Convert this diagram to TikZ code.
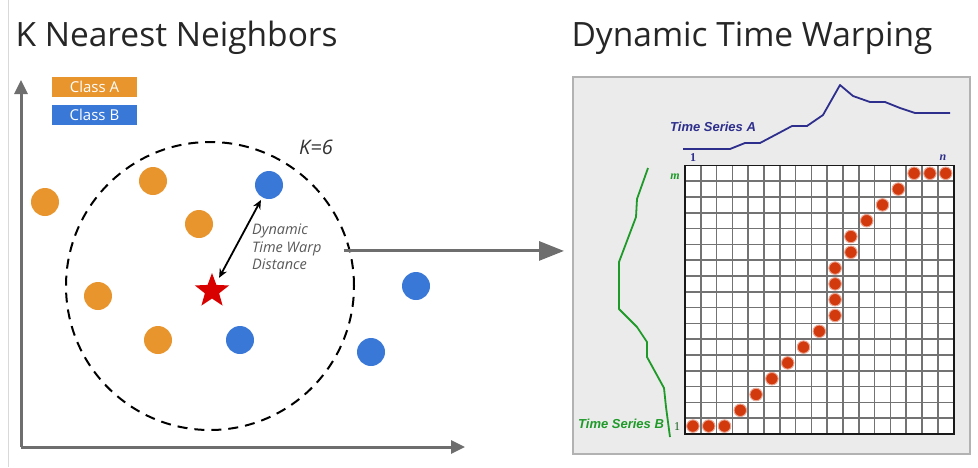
\documentclass[tikz,border=0pt]{standalone}
\usepackage{fontspec}
\setmainfont{Open Sans}
\newfontfamily\tsfont{Liberation Sans}
\newfontfamily\idxfont{Liberation Serif}
\usetikzlibrary{arrows.meta,shapes.geometric}
\definecolor{clsA}{HTML}{E8952E}
\definecolor{clsB}{HTML}{3A78D8}
\definecolor{axisgray}{HTML}{6E6E6E}
\definecolor{seriesA}{HTML}{2E2E8C}
\definecolor{seriesB}{HTML}{1E9A28}
\definecolor{pathred}{HTML}{D23A0E}
\definecolor{panelgray}{HTML}{EBEBEB}
\begin{document}
\begin{tikzpicture}
	[x=1pt,y=-1pt,
	title/.style={anchor=west,font=\fontsize{33.5}{40}\selectfont,text=black!85},
	legend/.style={minimum width=85pt,minimum height=20pt,inner sep=0pt,text=white,font=\fontsize{15}{17}\selectfont},
	dotA/.style={circle,fill=clsA,minimum size=28pt,inner sep=0pt},
	dotB/.style={circle,fill=clsB,minimum size=28pt,inner sep=0pt},
	axis/.style={draw=axisgray,line width=3pt,-{Triangle[length=14pt,width=13pt]}},
	panel/.style={draw=black!30,line width=2pt,fill=panelgray,minimum width=397pt,minimum height=377pt},
	gridline/.style={draw=black!55,line width=1.7pt},
	gridframe/.style={draw=black!90,line width=1.8pt},
	match/.style={circle,fill=pathred,draw=pathred!45!white,line width=1pt,minimum size=12.5pt,inner sep=0pt},
	tslabel/.style={font=\tsfont\bfseries\itshape\fontsize{13}{15}\selectfont},
	idx/.style={font=\idxfont\bfseries\itshape\fontsize{12}{14}\selectfont},]
	\useasboundingbox (0,0) rectangle (978,467);
	\draw[black!15] (8,0) -- (8,467);
	% titles
	\node[title] (t1) at (12,38) {K Nearest Neighbors};
	\node[title] (t2) at (568,38) {Dynamic Time Warping};
	% left panel: knn
	\coordinate (o) at (21,447);
	\draw[axis] (o) -- (21,80);
	\draw[axis] (o) -- (465,447);
	\node[legend,fill=clsA] (la) at (94.5,87) {Class A};
	\node[legend,fill=clsB] (lb) at (94.5,114.5) {Class B};
	\node[circle,draw,line width=2pt,dash pattern=on 10pt off 7pt,minimum size=288pt] (knn) at (210,286) {};
	\node[font=\itshape\fontsize{20}{24}\selectfont,text=black!80] (k) at (316,147) {K=6};
	\foreach \p [count=\i] in {(45,202),(153,181),(199,224),(98,296),(158,340)}
		\node[dotA] (a\i) at \p {};
	\foreach \p [count=\i] in {(269,185),(416,286),(240,340),(371,352)}
		\node[dotB] (b\i) at \p {};
	\node[star,star points=5,star point ratio=2.4,fill=red!85!black,minimum size=36pt,inner sep=0pt] (q) at (212,291) {};
	\draw[line width=1.8pt,{Stealth[length=9pt,width=8pt]}-{Stealth[length=9pt,width=8pt]},shorten <=15pt,shorten >=17pt] (q.center) -- (b1.center);
	\node[anchor=north west,align=left,inner sep=0pt,text=black!65,font=\itshape\fontsize{14.5}{17.5}\selectfont] (dist) at (252,224) {Dynamic\\Time Warp\\Distance};
	% right panel: dtw
	\node[panel] (dtw) at (771.5,265.5) {};
	\draw[axisgray,line width=3pt,-{Triangle[length=25pt,width=19pt]}] ([xshift=-7pt]knn.14) -- ([xshift=-8pt]dtw.west |- knn.14);
	\begin{scope}[shift={(685,434)},x=15.8pt,y=15.8pt]
		\fill[white] (0,0) rectangle (17,17);
		\foreach \k in {1,...,16}
		{
			\draw[gridline] (\k,0) -- (\k,17);
			\draw[gridline] (0,\k) -- (17,\k);
		}
		\draw[gridframe] (0,0) rectangle (17,17);
		\foreach \c/\r [count=\n] in {1/1,2/1,3/1,4/2,5/3,6/4,7/5,8/6,9/7,10/8,10/9,10/10,10/11,11/12,11/13,12/14,13/15,14/16,15/17,16/17,17/17}
			\node[match] (p\n) at (\c-0.5,\r-0.5) {};
	\end{scope}
	\draw[seriesA,line width=1.8pt,line join=round] (683,149) -- (730,149) -- (745,143) -- (760,143) -- (777,134) -- (792,126) -- (807,126) -- (823,115) -- (840,85) -- (853,96) -- (870,102) -- (885,102) -- (900,108) -- (915,113) -- (950,113);
	\draw[seriesB,line width=1.8pt,line join=round] (648,168) -- (637,199) -- (636,217) -- (619,262) -- (619,309) -- (637,327) -- (647,342) -- (647,357) -- (664,388) -- (666,407) -- (670,437);
	\node[tslabel,text=seriesA,anchor=west,inner sep=0pt] (tsa) at (670,127) {Time Series A};
	\node[tslabel,text=seriesB,anchor=west,inner sep=0pt] (tsb) at (578,424) {Time Series B};
	\node[idx,text=seriesA,font=\idxfont\bfseries\fontsize{12}{14}\selectfont] (i1) at (693,158) {1};
	\node[idx,text=seriesA] (in) at (943,158) {n};
	\node[idx,text=seriesB] (im) at (675,177) {m};
	\node[idx,text=seriesB!60!black,font=\idxfont\fontsize{12}{14}\selectfont] (j1) at (677,427) {1};
\end{tikzpicture}
\end{document}
